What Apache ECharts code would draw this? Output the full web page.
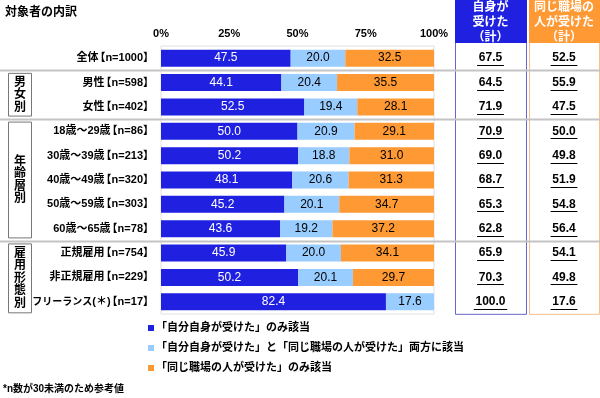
<!DOCTYPE html>
<html>
<head>
<meta charset="utf-8">
<script src="https://cdn.jsdelivr.net/npm/echarts@6/dist/echarts.min.js"></script>
<style>
  html, body { margin: 0; padding: 0; background: #fff; }
  #main { width: 600px; height: 398px; }
</style>
</head>
<body>
<div id="main"></div>
<script>
// data
const categories = ['全体【n=1000】', '男性【n=598】', '女性【n=402】',
  '18歳～29歳【n=86】', '30歳～39歳【n=213】', '40歳～49歳【n=320】', '50歳～59歳【n=303】', '60歳～65歳【n=78】',
  '正規雇用【n=754】', '非正規雇用【n=229】', 'フリーランス(＊)【n=17】']
const selfOnly = [47.5, 44.1, 52.5, 50.0, 50.2, 48.1, 45.2, 43.6, 45.9, 50.2, 82.4]
const both = [20.0, 20.4, 19.4, 20.9, 18.8, 20.6, 20.1, 19.2, 20.0, 20.1, 17.6]
const otherOnly = [32.5, 35.5, 28.1, 29.1, 31.0, 31.3, 34.7, 37.2, 34.1, 29.7, null]
const selfTotal = [67.5, 64.5, 71.9, 70.9, 69.0, 68.7, 65.3, 62.8, 65.9, 70.3, 100.0]
const otherTotal = [52.5, 55.9, 47.5, 50.0, 49.8, 51.9, 54.8, 56.4, 54.1, 49.8, 17.6]
const seriesNames = ['「自分自身が受けた」のみ該当', '「自分自身が受けた」と「同じ職場の人が受けた」両方に該当', '「同じ職場の人が受けた」のみ該当']
const tickValues = [0, 25, 50, 75, 100]
const groupNames = ['男女別', '年齢層別', '雇用形態別']
const groupFirst = [1, 3, 8]
const groupLast = [2, 7, 10]

const FONT = '"Liberation Sans", "Noto Sans CJK JP", sans-serif'
const DARK = '#2020E0', LIGHT = '#99CCFF', ORANGE = '#FF9933'

const chart = echarts.init(document.getElementById('main'))

const mkSeries = (name, data, color, labelColor) => ({
  name: name,
  type: 'bar',
  stack: 'total',
  data: data,
  barWidth: 17,
  itemStyle: { color: color },
  label: {
    show: true,
    position: 'inside',
    color: labelColor,
    fontSize: 12,
    fontFamily: FONT,
    formatter: p => p.value == null ? '' : p.value.toFixed(1)
  }
})

const lblFont = { color: '#000', fontSize: 11, fontWeight: 'bold', fontFamily: FONT }

chart.setOption({
  animation: false,
  grid: { left: 161, top: 46, width: 273, height: 268, show: true, borderColor: '#e0e0e0', borderWidth: 1 },
  xAxis: {
    type: 'value', position: 'top', min: 0, max: 100, interval: 25,
    axisLine: { show: false }, axisTick: { show: false },
    splitLine: { show: false },
    axisLabel: {
      margin: 7, color: '#000', fontSize: 11, fontWeight: 'bold', fontFamily: FONT,
      formatter: v => tickValues.includes(v) ? v + '%' : ''
    }
  },
  yAxis: {
    type: 'category', inverse: true, data: categories,
    axisLine: { show: false }, axisTick: { show: false },
    axisLabel: Object.assign({
      margin: 11,
      // tighten the wide CJK brackets so the labels keep the original width
      formatter: s => s.replace(/([ァ-ヶー]+)/g, '{k|$1}').replace(/【/g, '{lb|【}').replace(/】/g, '{rb|】}'),
      rich: {
        lb: Object.assign({ padding: [0, 0, 0, -4] }, lblFont),
        rb: Object.assign({ padding: [0, -4, 0, 0] }, lblFont),
        k: Object.assign({}, lblFont, { fontSize: 10 })
      }
    }, lblFont)
  },
  legend: {
    orient: 'vertical', left: 148, top: 322, itemGap: 8, itemWidth: 6, itemHeight: 6, padding: 0,
    icon: 'rect', selectedMode: false,
    textStyle: { color: '#000', fontSize: 11, fontWeight: 'bold', fontFamily: FONT, padding: [0, 0, 0, -3], lineHeight: 12 }
  },
  series: [
    mkSeries(seriesNames[0], selfOnly, DARK, '#fff'),
    mkSeries(seriesNames[1], both, LIGHT, '#000'),
    mkSeries(seriesNames[2], otherOnly, ORANGE, '#000')
  ]
})

// extra decorations placed from the axis scale
const rowY = i => chart.convertToPixel({ yAxisIndex: 0 }, categories[i])
const sepY = i => (rowY(i) + rowY(i + 1)) / 2
const bottomY = rowY(categories.length - 1) + 12
const g = []

g.push({ type: 'text', left: 5, top: 7, style: { text: '対象者の内訳', fontSize: 12, fontWeight: 'bold', fontFamily: FONT, fill: '#000' } })
g.push({ type: 'text', left: 3, top: 384, style: { text: '*n数が30未満のため参考値', fontSize: 10, fontWeight: 'bold', fontFamily: FONT, fill: '#000' } })

// separators
const seps = [0, 2, 7]
seps.forEach(i => {
  const y = Math.round(sepY(i)) + 0.5
  g.push({ type: 'line', shape: { x1: 0, y1: y, x2: 600, y2: y }, style: { stroke: '#c4c4c4', lineWidth: 2 }, z: 5 })
})

// group boxes
groupNames.forEach((name, k) => {
  const top = sepY(groupFirst[k] - 1) + 3
  const bot = groupLast[k] < categories.length - 1 ? sepY(groupLast[k]) - 3 : bottomY - 1
  g.push({ type: 'rect', shape: { x: 8.5, y: top, width: 23, height: bot - top }, style: { fill: '#fff', stroke: '#777', lineWidth: 1 }, z: 6 })
  g.push({
    type: 'text', x: 20, y: (top + bot) / 2, z: 7,
    style: { text: name.split('').join('\n'), align: 'center', verticalAlign: 'middle', lineHeight: 12.5, fontSize: 12, fontWeight: 'bold', fontFamily: FONT, fill: '#000' }
  })
})

// total columns
const cols = [
  { x: 455, w: 71, fill: DARK, stroke: '#6666cc', head: '自身が\n受けた\n（計）', vals: selfTotal },
  { x: 529, w: 70, fill: ORANGE, stroke: '#f5c08a', head: '同じ職場の\n人が受けた\n（計）', vals: otherTotal }
]
cols.forEach(c => {
  g.push({ type: 'rect', shape: { x: c.x + 0.5, y: 0.5, width: c.w, height: bottomY }, style: { fill: '#fff', stroke: c.stroke, lineWidth: 1 }, z: 3 })
  g.push({ type: 'rect', shape: { x: c.x, y: 0, width: c.w + 1, height: 43 }, style: { fill: c.fill }, z: 8 })
  g.push({
    type: 'text', x: c.x + c.w / 2, y: 23, z: 9,
    style: { text: c.head, align: 'center', verticalAlign: 'middle', lineHeight: 15, fontSize: 12, fontWeight: 'bold', fontFamily: FONT, fill: '#fff' }
  })
  c.vals.forEach((v, i) => {
    const y = rowY(i)
    const cx = c.x + c.w / 2
    const txt = v.toFixed(1)
    const tw = txt.length * 6.7
    g.push({ type: 'text', x: cx, y: y, z: 9, style: { text: txt, align: 'center', verticalAlign: 'middle', fontSize: 12, fontWeight: 'bold', fontFamily: FONT, fill: '#000' } })
    g.push({ type: 'line', z: 9, shape: { x1: cx - tw / 2, y1: Math.round(y + 7) + 0.5, x2: cx + tw / 2, y2: Math.round(y + 7) + 0.5 }, style: { stroke: '#000', lineWidth: 1 } })
  })
})

chart.setOption({ graphic: g })
</script>
</body>
</html>
